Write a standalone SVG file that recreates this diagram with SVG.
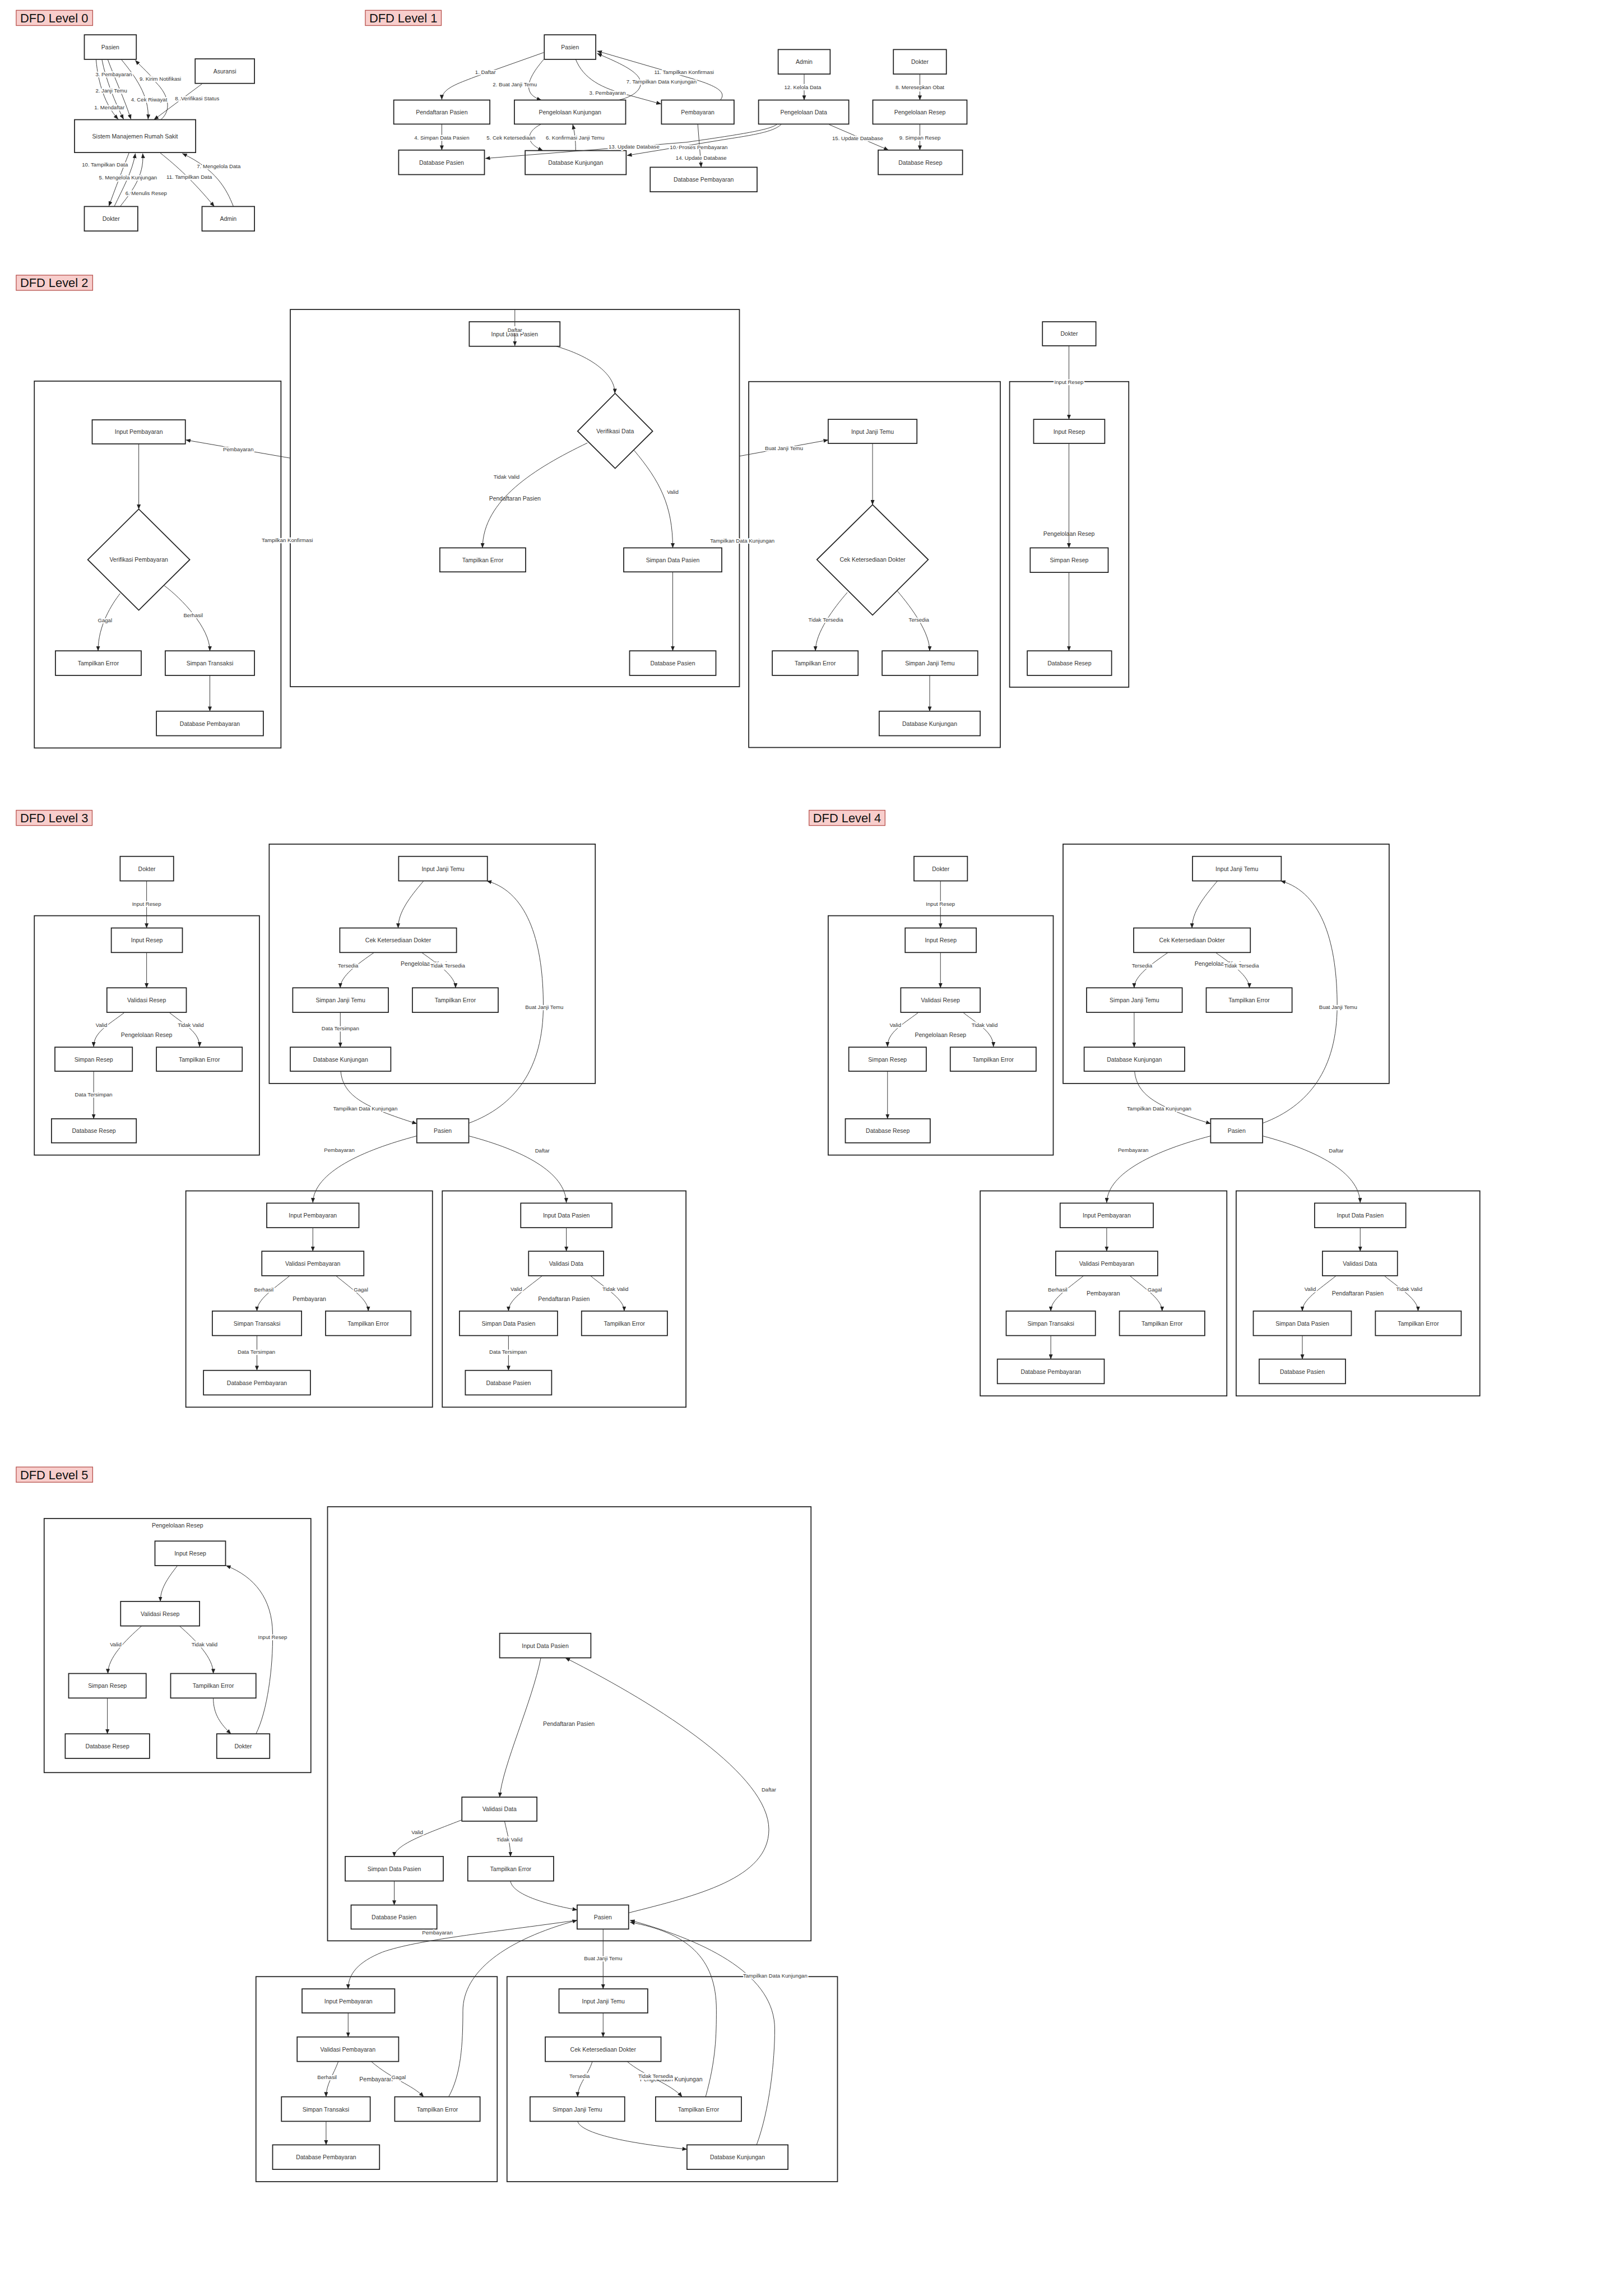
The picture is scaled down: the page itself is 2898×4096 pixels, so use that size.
<svg xmlns="http://www.w3.org/2000/svg" width="2898" height="4096" viewBox="0 0 2898 4096">
<defs>
<marker id="arr" markerUnits="userSpaceOnUse" viewBox="0 0 10 8" markerWidth="10" markerHeight="8" refX="9.5" refY="4" orient="auto">
<path d="M0,0 L10,4 L0,8 z" fill="#222"/>
</marker>
</defs>
<style>
.nd rect,.nd polygon{fill:#fff;stroke:#222;stroke-width:2}
.nd text{font-family:"Liberation Sans",Arial,sans-serif;font-size:12px;fill:#333;text-anchor:middle;dominant-baseline:central}
.box{fill:none;stroke:#222;stroke-width:2}
.edges path{fill:none;stroke:#333;stroke-width:1.1;marker-end:url(#arr)}
.lbl text{font-family:"Liberation Sans",Arial,sans-serif;font-size:11px;fill:#333;text-anchor:middle;dominant-baseline:central;paint-order:stroke;stroke:#fff;stroke-width:5px;stroke-linejoin:round}
.lbl rect{fill:#fff;stroke:none}
.sub{font-family:"Liberation Sans",Arial,sans-serif;font-size:12px;fill:#333;text-anchor:middle;dominant-baseline:central}
.ttl rect{fill:#f8cecc;stroke:#b85450;stroke-width:1.5}
.ttl text{font-family:"Liberation Sans",Arial,sans-serif;font-size:25px;fill:#111;dominant-baseline:central}
</style>
<rect width="2898" height="4096" fill="#fff"/>
<g transform="scale(0.875)">

<!-- ================= LEVEL 0 ================= -->
<g id="level0">
<g class="ttl"><rect x="33" y="21" width="156" height="31"/><text x="41" y="37">DFD Level 0</text></g>
<g id="l0-nodes">
<g id="l0-pasien" class="nd"><rect x="172" y="71" width="106" height="50"/><text x="225" y="96">Pasien</text></g>
<g id="l0-asuransi" class="nd"><rect x="398" y="120" width="121" height="50"/><text x="458.5" y="145">Asuransi</text></g>
<g id="l0-sistem" class="nd"><rect x="152" y="244" width="247" height="67"/><text x="275.5" y="277.5">Sistem Manajemen Rumah Sakit</text></g>
<g id="l0-dokter" class="nd"><rect x="172" y="421" width="109" height="50"/><text x="226.5" y="446">Dokter</text></g>
<g id="l0-admin" class="nd"><rect x="412" y="421" width="107" height="50"/><text x="465.5" y="446">Admin</text></g>
</g>
<g id="l0-edges" class="edges">
<path d="M196,122 C200,170 215,215 241,243"/>
<path d="M208,122 C215,160 235,210 252,243"/>
<path d="M220,122 C232,155 255,205 267,243"/>
<path d="M248,122 C275,155 305,195 302,243"/>
<path d="M328,244 C350,225 345,195 318,168 C305,150 290,138 276,123"/>
<path d="M412,171 L314,244"/>
<path d="M263,312 C250,345 235,385 222,420"/>
<path d="M233,421 C250,385 270,350 276,313"/>
<path d="M245,421 C265,395 295,360 291,313"/>
<path d="M327,312 C360,338 395,370 437,421"/>
<path d="M476,421 C462,385 440,345 372,313"/>
</g>
<g id="l0-labels" class="lbl">
<text x="223" y="219">1. Mendaftar</text>
<text x="227" y="184">2. Janji Temu</text>
<text x="232" y="151">3. Pembayaran</text>
<text x="304" y="203">4. Cek Riwayat</text>
<text x="327" y="161">9. Kirim Notifikasi</text>
<text x="402" y="200">8. Verifikasi Status</text>
<text x="214" y="335">10. Tampilkan Data</text>
<text x="261" y="362">5. Mengelola Kunjungan</text>
<text x="298" y="394">6. Menulis Resep</text>
<text x="386" y="361">11. Tampilkan Data</text>
<text x="446" y="339">7. Mengelola Data</text>
</g>
</g>

<!-- ================= LEVEL 1 ================= -->
<g id="level1">
<g class="ttl"><rect x="745" y="21" width="155" height="31"/><text x="753" y="37">DFD Level 1</text></g>
<g id="l1-nodes">
<g id="l1-pasien" class="nd"><rect x="1110" y="71" width="105" height="50"/><text x="1162.5" y="96">Pasien</text></g>
<g id="l1-admin" class="nd"><rect x="1587" y="101" width="106" height="50"/><text x="1640" y="126">Admin</text></g>
<g id="l1-dokter" class="nd"><rect x="1822" y="101" width="108" height="50"/><text x="1876" y="126">Dokter</text></g>
<g id="l1-pendaftaran" class="nd"><rect x="803" y="204" width="196" height="49"/><text x="901" y="228.5">Pendaftaran Pasien</text></g>
<g id="l1-kunjungan" class="nd"><rect x="1049" y="204" width="227" height="49"/><text x="1162.5" y="228.5">Pengelolaan Kunjungan</text></g>
<g id="l1-pembayaran" class="nd"><rect x="1349" y="204" width="148" height="49"/><text x="1423" y="228.5">Pembayaran</text></g>
<g id="l1-data" class="nd"><rect x="1547" y="204" width="184" height="49"/><text x="1639" y="228.5">Pengelolaan Data</text></g>
<g id="l1-resep" class="nd"><rect x="1780" y="204" width="192" height="49"/><text x="1876" y="228.5">Pengelolaan Resep</text></g>
<g id="l1-dbpasien" class="nd"><rect x="813" y="306" width="175" height="50"/><text x="900.5" y="331">Database Pasien</text></g>
<g id="l1-dbkunjungan" class="nd"><rect x="1071" y="307" width="206" height="49"/><text x="1174" y="331.5">Database Kunjungan</text></g>
<g id="l1-dbpembayaran" class="nd"><rect x="1326" y="341" width="218" height="50"/><text x="1435" y="366">Database Pembayaran</text></g>
<g id="l1-dbresep" class="nd"><rect x="1791" y="306" width="172" height="50"/><text x="1877" y="331">Database Resep</text></g>
</g>
<g id="l1-edges" class="edges">
<path d="M1109,107 L968,157 C935,170 901,180 901,203"/>
<path d="M1109,121 C1080,155 1060,190 1104,204"/>
<path d="M1174,121 C1190,160 1225,180 1286,195 L1348,212"/>
<path d="M1262,204 C1300,195 1315,175 1302,157 C1290,140 1255,125 1218,109"/>
<path d="M1469,204 C1482,188 1465,175 1400,157 L1218,104"/>
<path d="M901,253 L901,306"/>
<path d="M1104,253 C1075,267 1068,290 1107,307"/>
<path d="M1174,307 C1174,285 1172,270 1168,254"/>
<path d="M1584,254 C1570,263 1540,270 1400,290 L990,323"/>
<path d="M1593,254 C1580,265 1560,272 1486,283 L1279,317"/>
<path d="M1423,253 L1430,341"/>
<path d="M1640,151 L1640,204"/>
<path d="M1876,151 L1876,204"/>
<path d="M1876,253 L1876,306"/>
<path d="M1691,254 L1812,306"/>
</g>
<g id="l1-labels" class="lbl">
<text x="990" y="147">1. Daftar</text>
<text x="1050" y="172">2. Buat Janji Temu</text>
<text x="1239" y="189">3. Pembayaran</text>
<text x="1349" y="166">7. Tampilkan Data Kunjungan</text>
<text x="1395" y="147">11. Tampilkan Konfirmasi</text>
<text x="901" y="280">4. Simpan Data Pasien</text>
<text x="1042" y="280">5. Cek Ketersediaan</text>
<text x="1173" y="280">6. Konfirmasi Janji Temu</text>
<text x="1293" y="299">13. Update Database</text>
<text x="1425" y="300">10. Proses Pembayaran</text>
<text x="1430" y="322">14. Update Database</text>
<text x="1637" y="178">12. Kelola Data</text>
<text x="1876" y="178">8. Meresepkan Obat</text>
<text x="1876" y="281">9. Simpan Resep</text>
<text x="1749" y="282">15. Update Database</text>
</g>
</g>

<!-- ================= LEVEL 2 ================= -->
<g id="level2">
<g class="ttl"><rect x="33" y="561" width="156" height="31"/><text x="41" y="577">DFD Level 2</text></g>
<rect class="box" x="70" y="777" width="503" height="748"/>
<rect class="box" x="592" y="631" width="916" height="769"/>
<rect class="box" x="1527" y="778" width="513" height="746"/>
<rect class="box" x="2059" y="778" width="243" height="623"/>
<g id="l2-nodes">
<g id="l2-inputbayar" class="nd"><rect x="188" y="856" width="190" height="49"/><text x="283" y="880.5">Input Pembayaran</text></g>
<g id="l2-verifbayar" class="nd"><polygon points="283,1038 387,1141 283,1244 179,1141"/><text x="283" y="1141">Verifikasi Pembayaran</text></g>
<g id="l2-errbayar" class="nd"><rect x="113" y="1327" width="175" height="50"/><text x="200.5" y="1352">Tampilkan Error</text></g>
<g id="l2-simpantrans" class="nd"><rect x="337" y="1327" width="182" height="50"/><text x="428" y="1352">Simpan Transaksi</text></g>
<g id="l2-dbbayar" class="nd"><rect x="319" y="1450" width="218" height="50"/><text x="428" y="1475">Database Pembayaran</text></g>
<g id="l2-inputpasien" class="nd"><rect x="957" y="656" width="185" height="50"/><text x="1049.5" y="681">Input Data Pasien</text></g>
<g id="l2-verifdata" class="nd"><polygon points="1254.5,802 1331,879 1254.5,955 1178,879"/><text x="1254.5" y="879">Verifikasi Data</text></g>
<g id="l2-errpasien" class="nd"><rect x="897" y="1117" width="175" height="49"/><text x="984.5" y="1141.5">Tampilkan Error</text></g>
<g id="l2-simpanpasien" class="nd"><rect x="1272" y="1117" width="200" height="49"/><text x="1372" y="1141.5">Simpan Data Pasien</text></g>
<g id="l2-dbpasien" class="nd"><rect x="1284" y="1327" width="176" height="50"/><text x="1372" y="1352">Database Pasien</text></g>
<g id="l2-inputjanji" class="nd"><rect x="1689" y="855" width="181" height="49"/><text x="1779.5" y="879.5">Input Janji Temu</text></g>
<g id="l2-cekdokter" class="nd"><polygon points="1779.5,1029 1893,1141 1779.5,1254 1666,1141"/><text x="1779.5" y="1141">Cek Ketersediaan Dokter</text></g>
<g id="l2-errjanji" class="nd"><rect x="1575" y="1327" width="175" height="50"/><text x="1662.5" y="1352">Tampilkan Error</text></g>
<g id="l2-simpanjanji" class="nd"><rect x="1799" y="1327" width="195" height="50"/><text x="1896.5" y="1352">Simpan Janji Temu</text></g>
<g id="l2-dbkunjungan" class="nd"><rect x="1793" y="1450" width="206" height="50"/><text x="1896" y="1475">Database Kunjungan</text></g>
<g id="l2-dokter" class="nd"><rect x="2126" y="656" width="109" height="49"/><text x="2180.5" y="680.5">Dokter</text></g>
<g id="l2-inputresep" class="nd"><rect x="2108" y="855" width="145" height="49"/><text x="2180.5" y="879.5">Input Resep</text></g>
<g id="l2-simpanresep" class="nd"><rect x="2101" y="1117" width="159" height="50"/><text x="2180.5" y="1142">Simpan Resep</text></g>
<g id="l2-dbresep" class="nd"><rect x="2095" y="1327" width="172" height="50"/><text x="2181" y="1352">Database Resep</text></g>
</g>
<g id="l2-edges" class="edges">
<path d="M283,905 L283,1038"/>
<path d="M245,1210 C228,1232 200,1275 200,1327"/>
<path d="M335,1194 C370,1220 428,1280 428,1327"/>
<path d="M428,1377 L428,1450"/>
<path d="M592,934 L379,897"/>
<path d="M1050,631 L1050,705"/>
<path d="M1134,706 C1200,725 1254,760 1254,802"/>
<path d="M1198,903 C1090,955 985,1020 984,1117"/>
<path d="M1293,918 C1345,980 1372,1030 1372,1117"/>
<path d="M1372,1166 L1372,1327"/>
<path d="M1779.5,904 L1779.5,1029"/>
<path d="M1728,1208 C1700,1240 1663,1290 1663,1327"/>
<path d="M1830,1205 C1860,1240 1896,1290 1896,1327"/>
<path d="M1896,1377 L1896,1450"/>
<path d="M1508,930 L1689,897"/>
<path d="M2180,705 L2180,855"/>
<path d="M2180,904 L2180,1117"/>
<path d="M2180,1167 L2180,1327"/>
</g>
<g id="l2-labels" class="lbl">
<text x="214" y="1265">Gagal</text>
<text x="394" y="1254">Berhasil</text>
<text x="486" y="916">Pembayaran</text>
<text x="586" y="1101">Tampilkan Konfirmasi</text>
<rect x="1034" y="665" width="32" height="14"/>
<text x="1050" y="672">Daftar</text>
<text x="1033" y="972">Tidak Valid</text>
<text x="1372" y="1003">Valid</text>
<text x="1514" y="1102">Tampilkan Data Kunjungan</text>
<text x="1684" y="1263">Tidak Tersedia</text>
<text x="1874" y="1263">Tersedia</text>
<text x="1599" y="914">Buat Janji Temu</text>
<text x="2180" y="779">Input Resep</text>
</g>
<text class="sub" x="1050" y="1016">Pendaftaran Pasien</text>
<text class="sub" x="2180" y="1088">Pengelolaan Resep</text>
</g>

<!-- ================= LEVEL 3 ================= -->
<g id="level3">
<g class="ttl"><rect x="33" y="1652" width="155" height="31"/><text x="41" y="1668">DFD Level 3</text></g>
<rect class="box" x="70" y="1867" width="459" height="488"/>
<rect class="box" x="549" y="1721" width="665" height="488"/>
<rect class="box" x="379" y="2428" width="503" height="441"/>
<rect class="box" x="902" y="2428" width="497" height="441"/>
<g id="l3-nodes">
<g id="l3-dokter" class="nd"><rect x="245" y="1746" width="109" height="50"/><text x="299.5" y="1771">Dokter</text></g>
<g id="l3-inputresep" class="nd"><rect x="227" y="1892" width="145" height="50"/><text x="299.5" y="1917">Input Resep</text></g>
<g id="l3-validresep" class="nd"><rect x="218" y="2014" width="162" height="50"/><text x="299" y="2039">Validasi Resep</text></g>
<g id="l3-simpanresep" class="nd"><rect x="112" y="2135" width="158" height="49"/><text x="191" y="2159.5">Simpan Resep</text></g>
<g id="l3-errresep" class="nd"><rect x="319" y="2135" width="175" height="49"/><text x="406.5" y="2159.5">Tampilkan Error</text></g>
<g id="l3-dbresep" class="nd"><rect x="105" y="2281" width="173" height="49"/><text x="191.5" y="2305.5">Database Resep</text></g>
<g id="l3-inputjanji" class="nd"><rect x="813" y="1746" width="181" height="50"/><text x="903.5" y="1771">Input Janji Temu</text></g>
<g id="l3-cekdokter" class="nd"><rect x="693" y="1892" width="238" height="50"/><text x="812" y="1917">Cek Ketersediaan Dokter</text></g>
<g id="l3-simpanjanji" class="nd"><rect x="597" y="2014" width="195" height="50"/><text x="694.5" y="2039">Simpan Janji Temu</text></g>
<g id="l3-errjanji" class="nd"><rect x="841" y="2014" width="175" height="50"/><text x="928.5" y="2039">Tampilkan Error</text></g>
<g id="l3-dbkunjungan" class="nd"><rect x="592" y="2135" width="205" height="49"/><text x="694.5" y="2159.5">Database Kunjungan</text></g>
<g id="l3-pasien" class="nd"><rect x="850" y="2281" width="106" height="49"/><text x="903" y="2305.5">Pasien</text></g>
<g id="l3-inputbayar" class="nd"><rect x="544" y="2453" width="188" height="50"/><text x="638" y="2478">Input Pembayaran</text></g>
<g id="l3-validbayar" class="nd"><rect x="534" y="2551" width="208" height="50"/><text x="638" y="2576">Validasi Pembayaran</text></g>
<g id="l3-simpantrans" class="nd"><rect x="433" y="2673" width="182" height="50"/><text x="524" y="2698">Simpan Transaksi</text></g>
<g id="l3-errbayar" class="nd"><rect x="664" y="2673" width="174" height="50"/><text x="751" y="2698">Tampilkan Error</text></g>
<g id="l3-dbbayar" class="nd"><rect x="415" y="2794" width="218" height="50"/><text x="524" y="2819">Database Pembayaran</text></g>
<g id="l3-inputpasien" class="nd"><rect x="1062" y="2453" width="186" height="50"/><text x="1155" y="2478">Input Data Pasien</text></g>
<g id="l3-validdata" class="nd"><rect x="1078" y="2551" width="153" height="50"/><text x="1154.5" y="2576">Validasi Data</text></g>
<g id="l3-simpanpasien" class="nd"><rect x="937" y="2673" width="200" height="50"/><text x="1037" y="2698">Simpan Data Pasien</text></g>
<g id="l3-errpasien" class="nd"><rect x="1186" y="2673" width="175" height="50"/><text x="1273.5" y="2698">Tampilkan Error</text></g>
<g id="l3-dbpasien" class="nd"><rect x="949" y="2794" width="176" height="50"/><text x="1037" y="2819">Database Pasien</text></g>
</g>
<g id="l3-edges" class="edges">
<path d="M299,1796 L299,1892"/>
<path d="M299,1942 L299,2014"/>
<path d="M253,2065 C220,2090 191,2105 191,2134"/>
<path d="M346,2065 C378,2090 407,2105 407,2134"/>
<path d="M191,2184 L191,2281"/>
<path d="M864,1796 C835,1830 812,1860 812,1892"/>
<path d="M763,1942 C730,1965 694,1990 694,2014"/>
<path d="M860,1942 C892,1965 929,1990 929,2014"/>
<path d="M694,2064 L694,2135"/>
<path d="M695,2185 C700,2235 745,2258 850,2291"/>
<path d="M956,2290 C1050,2255 1108,2180 1108,2050 C1108,1930 1080,1820 993,1796"/>
<path d="M850,2316 C740,2345 640,2390 638,2452"/>
<path d="M956,2316 C1066,2345 1153,2390 1155,2452"/>
<path d="M638,2503 L638,2551"/>
<path d="M591,2601 C555,2630 524,2650 524,2673"/>
<path d="M685,2601 C720,2630 751,2650 751,2673"/>
<path d="M524,2723 L524,2794"/>
<path d="M1155,2503 L1155,2551"/>
<path d="M1106,2601 C1070,2630 1037,2650 1037,2673"/>
<path d="M1204,2601 C1240,2630 1273,2650 1273,2673"/>
<path d="M1037,2723 L1037,2794"/>
</g>
<text class="sub" x="299" y="2110">Pengelolaan Resep</text>
<text class="sub" x="881" y="1965">Pengelolaan Kunjungan</text>
<text class="sub" x="631" y="2648">Pembayaran</text>
<text class="sub" x="1150" y="2648">Pendaftaran Pasien</text>
<g id="l3-labels" class="lbl">
<text x="299" y="1843">Input Resep</text>
<text x="207" y="2090">Valid</text>
<text x="389" y="2090">Tidak Valid</text>
<text x="191" y="2231">Data Tersimpan</text>
<text x="710" y="1969">Tersedia</text>
<rect x="878" y="1962" width="70" height="15"/>
<text x="913" y="1969">Tidak Tersedia</text>
<text x="694" y="2097">Data Tersimpan</text>
<text x="745" y="2260">Tampilkan Data Kunjungan</text>
<text x="1110" y="2053">Buat Janji Temu</text>
<text x="692" y="2345">Pembayaran</text>
<text x="1106" y="2346">Daftar</text>
<text x="538" y="2629">Berhasil</text>
<text x="736" y="2629">Gagal</text>
<text x="523" y="2756">Data Tersimpan</text>
<text x="1053" y="2628">Valid</text>
<text x="1255" y="2628">Tidak Valid</text>
<text x="1036" y="2756">Data Tersimpan</text>
</g>
</g>

<!-- ================= LEVEL 4 ================= -->
<g id="level4" transform="translate(1619,0)">
<g class="ttl"><rect x="31" y="1652" width="155" height="31"/><text x="39" y="1668">DFD Level 4</text></g>
<rect class="box" x="70" y="1867" width="459" height="488"/>
<rect class="box" x="549" y="1721" width="665" height="488"/>
<rect class="box" x="380" y="2428" width="503" height="418"/>
<rect class="box" x="902" y="2428" width="497" height="418"/>
<g id="l4-nodes">
<g id="l4-dokter" class="nd"><rect x="245" y="1746" width="109" height="50"/><text x="299.5" y="1771">Dokter</text></g>
<g id="l4-inputresep" class="nd"><rect x="227" y="1892" width="145" height="50"/><text x="299.5" y="1917">Input Resep</text></g>
<g id="l4-validresep" class="nd"><rect x="218" y="2014" width="162" height="50"/><text x="299" y="2039">Validasi Resep</text></g>
<g id="l4-simpanresep" class="nd"><rect x="112" y="2135" width="158" height="49"/><text x="191" y="2159.5">Simpan Resep</text></g>
<g id="l4-errresep" class="nd"><rect x="319" y="2135" width="175" height="49"/><text x="406.5" y="2159.5">Tampilkan Error</text></g>
<g id="l4-dbresep" class="nd"><rect x="105" y="2281" width="173" height="49"/><text x="191.5" y="2305.5">Database Resep</text></g>
<g id="l4-inputjanji" class="nd"><rect x="813" y="1746" width="181" height="50"/><text x="903.5" y="1771">Input Janji Temu</text></g>
<g id="l4-cekdokter" class="nd"><rect x="693" y="1892" width="238" height="50"/><text x="812" y="1917">Cek Ketersediaan Dokter</text></g>
<g id="l4-simpanjanji" class="nd"><rect x="597" y="2014" width="195" height="50"/><text x="694.5" y="2039">Simpan Janji Temu</text></g>
<g id="l4-errjanji" class="nd"><rect x="841" y="2014" width="175" height="50"/><text x="928.5" y="2039">Tampilkan Error</text></g>
<g id="l4-dbkunjungan" class="nd"><rect x="592" y="2135" width="205" height="49"/><text x="694.5" y="2159.5">Database Kunjungan</text></g>
<g id="l4-pasien" class="nd"><rect x="850" y="2281" width="106" height="49"/><text x="903" y="2305.5">Pasien</text></g>
<g id="l4-inputbayar" class="nd"><rect x="543" y="2453" width="190" height="50"/><text x="638" y="2478">Input Pembayaran</text></g>
<g id="l4-validbayar" class="nd"><rect x="534" y="2551" width="208" height="50"/><text x="638" y="2576">Validasi Pembayaran</text></g>
<g id="l4-simpantrans" class="nd"><rect x="433" y="2673" width="182" height="50"/><text x="524" y="2698">Simpan Transaksi</text></g>
<g id="l4-errbayar" class="nd"><rect x="664" y="2673" width="174" height="50"/><text x="751" y="2698">Tampilkan Error</text></g>
<g id="l4-dbbayar" class="nd"><rect x="415" y="2771" width="218" height="50"/><text x="524" y="2796">Database Pembayaran</text></g>
<g id="l4-inputpasien" class="nd"><rect x="1062" y="2453" width="186" height="50"/><text x="1155" y="2478">Input Data Pasien</text></g>
<g id="l4-validdata" class="nd"><rect x="1078" y="2551" width="153" height="50"/><text x="1154.5" y="2576">Validasi Data</text></g>
<g id="l4-simpanpasien" class="nd"><rect x="937" y="2673" width="200" height="50"/><text x="1037" y="2698">Simpan Data Pasien</text></g>
<g id="l4-errpasien" class="nd"><rect x="1186" y="2673" width="175" height="50"/><text x="1273.5" y="2698">Tampilkan Error</text></g>
<g id="l4-dbpasien" class="nd"><rect x="949" y="2771" width="176" height="50"/><text x="1037" y="2796">Database Pasien</text></g>
</g>
<g id="l4-edges" class="edges">
<path d="M299,1796 L299,1892"/>
<path d="M299,1942 L299,2014"/>
<path d="M253,2065 C220,2090 191,2105 191,2134"/>
<path d="M346,2065 C378,2090 407,2105 407,2134"/>
<path d="M191,2184 L191,2281"/>
<path d="M864,1796 C835,1830 812,1860 812,1892"/>
<path d="M763,1942 C730,1965 694,1990 694,2014"/>
<path d="M860,1942 C892,1965 929,1990 929,2014"/>
<path d="M694,2064 L694,2135"/>
<path d="M695,2185 C700,2235 745,2258 850,2291"/>
<path d="M956,2290 C1050,2255 1108,2180 1108,2050 C1108,1930 1080,1820 993,1796"/>
<path d="M850,2316 C740,2345 640,2390 638,2452"/>
<path d="M956,2316 C1066,2345 1153,2390 1155,2452"/>
<path d="M638,2503 L638,2551"/>
<path d="M591,2601 C555,2630 524,2650 524,2673"/>
<path d="M685,2601 C720,2630 751,2650 751,2673"/>
<path d="M524,2723 L524,2771"/>
<path d="M1155,2503 L1155,2551"/>
<path d="M1106,2601 C1070,2630 1037,2650 1037,2673"/>
<path d="M1204,2601 C1240,2630 1273,2650 1273,2673"/>
<path d="M1037,2723 L1037,2771"/>
</g>
<text class="sub" x="299" y="2110">Pengelolaan Resep</text>
<text class="sub" x="881" y="1965">Pengelolaan Kunjungan</text>
<text class="sub" x="631" y="2637">Pembayaran</text>
<text class="sub" x="1150" y="2637">Pendaftaran Pasien</text>
<g id="l4-labels" class="lbl">
<text x="299" y="1843">Input Resep</text>
<text x="207" y="2090">Valid</text>
<text x="389" y="2090">Tidak Valid</text>
<text x="710" y="1969">Tersedia</text>
<rect x="878" y="1962" width="70" height="15"/>
<text x="913" y="1969">Tidak Tersedia</text>
<text x="745" y="2260">Tampilkan Data Kunjungan</text>
<text x="1110" y="2053">Buat Janji Temu</text>
<text x="692" y="2345">Pembayaran</text>
<text x="1106" y="2346">Daftar</text>
<text x="538" y="2629">Berhasil</text>
<text x="736" y="2629">Gagal</text>
<text x="1053" y="2628">Valid</text>
<text x="1255" y="2628">Tidak Valid</text>
</g>
</g>

<!-- ================= LEVEL 5 ================= -->
<g id="level5">
<g class="ttl"><rect x="33" y="2991" width="156" height="31"/><text x="41" y="3007">DFD Level 5</text></g>
<rect class="box" x="90" y="3096" width="544" height="518"/>
<rect class="box" x="668" y="3072" width="986" height="885"/>
<rect class="box" x="522" y="4030" width="492" height="418"/>
<rect class="box" x="1034" y="4030" width="674" height="418"/>
<text class="sub" x="362" y="3110">Pengelolaan Resep</text>
<g id="l5-nodes">
<g id="l5-inputresep" class="nd"><rect x="316" y="3142" width="144" height="50"/><text x="388" y="3167">Input Resep</text></g>
<g id="l5-validresep" class="nd"><rect x="246" y="3265" width="161" height="50"/><text x="326.5" y="3290">Validasi Resep</text></g>
<g id="l5-simpanresep" class="nd"><rect x="140" y="3412" width="158" height="50"/><text x="219" y="3437">Simpan Resep</text></g>
<g id="l5-errresep" class="nd"><rect x="348" y="3412" width="174" height="50"/><text x="435" y="3437">Tampilkan Error</text></g>
<g id="l5-dbresep" class="nd"><rect x="133" y="3535" width="172" height="50"/><text x="219" y="3560">Database Resep</text></g>
<g id="l5-dokter" class="nd"><rect x="442" y="3535" width="108" height="50"/><text x="496" y="3560">Dokter</text></g>
<g id="l5-inputpasien" class="nd"><rect x="1019" y="3330" width="186" height="50"/><text x="1112" y="3355">Input Data Pasien</text></g>
<g id="l5-validdata" class="nd"><rect x="942" y="3664" width="153" height="49"/><text x="1018.5" y="3688.5">Validasi Data</text></g>
<g id="l5-simpanpasien" class="nd"><rect x="704" y="3785" width="200" height="50"/><text x="804" y="3810">Simpan Data Pasien</text></g>
<g id="l5-errpasien" class="nd"><rect x="954" y="3785" width="175" height="50"/><text x="1041.5" y="3810">Tampilkan Error</text></g>
<g id="l5-dbpasien" class="nd"><rect x="716" y="3884" width="175" height="49"/><text x="803.5" y="3908.5">Database Pasien</text></g>
<g id="l5-pasien" class="nd"><rect x="1177" y="3884" width="105" height="49"/><text x="1229.5" y="3908.5">Pasien</text></g>
<g id="l5-inputbayar" class="nd"><rect x="616" y="4055" width="189" height="49"/><text x="710.5" y="4079.5">Input Pembayaran</text></g>
<g id="l5-validbayar" class="nd"><rect x="606" y="4153" width="207" height="50"/><text x="709.5" y="4178">Validasi Pembayaran</text></g>
<g id="l5-simpantrans" class="nd"><rect x="574" y="4275" width="181" height="50"/><text x="664.5" y="4300">Simpan Transaksi</text></g>
<g id="l5-errbayar" class="nd"><rect x="805" y="4275" width="174" height="50"/><text x="892" y="4300">Tampilkan Error</text></g>
<g id="l5-dbbayar" class="nd"><rect x="556" y="4373" width="218" height="50"/><text x="665" y="4398">Database Pembayaran</text></g>
<g id="l5-inputjanji" class="nd"><rect x="1140" y="4055" width="181" height="49"/><text x="1230.5" y="4079.5">Input Janji Temu</text></g>
<g id="l5-cekdokter" class="nd"><rect x="1112" y="4153" width="236" height="50"/><text x="1230" y="4178">Cek Ketersediaan Dokter</text></g>
<g id="l5-simpanjanji" class="nd"><rect x="1081" y="4275" width="193" height="50"/><text x="1177.5" y="4300">Simpan Janji Temu</text></g>
<g id="l5-errjanji" class="nd"><rect x="1337" y="4275" width="175" height="50"/><text x="1424.5" y="4300">Tampilkan Error</text></g>
<g id="l5-dbkunjungan" class="nd"><rect x="1401" y="4373" width="206" height="50"/><text x="1504" y="4398">Database Kunjungan</text></g>
</g>
<g id="l5-edges" class="edges">
<path d="M362,3192 C340,3220 327,3240 327,3265"/>
<path d="M289,3315 C255,3345 220,3380 220,3412"/>
<path d="M366,3315 C400,3345 435,3380 435,3412"/>
<path d="M219,3462 L219,3535"/>
<path d="M435,3462 C435,3495 450,3515 471,3535"/>
<path d="M522,3535 C545,3490 557,3400 556,3330 C555,3260 520,3215 461,3192"/>
<path d="M1103,3380 C1085,3470 1025,3600 1019,3664"/>
<path d="M943,3710 C880,3735 804,3760 804,3785"/>
<path d="M1029,3713 C1035,3740 1041,3760 1041,3785"/>
<path d="M804,3835 L804,3884"/>
<path d="M1041,3835 C1045,3860 1100,3880 1177,3894"/>
<path d="M1282,3900 C1420,3865 1568,3830 1568,3730 C1568,3620 1350,3480 1153,3380"/>
<path d="M1177,3915 C1000,3940 850,3955 780,3980 C730,4000 710,4025 710,4055"/>
<path d="M915,4275 C940,4230 944,4170 944,4100 C944,4020 1030,3955 1177,3915"/>
<path d="M710,4104 L710,4153"/>
<path d="M690,4203 C680,4230 665,4250 665,4275"/>
<path d="M757,4203 C800,4240 840,4250 864,4275"/>
<path d="M665,4325 L665,4373"/>
<path d="M1230,3933 L1230,4055"/>
<path d="M1230,4104 L1230,4153"/>
<path d="M1208,4203 C1200,4230 1178,4250 1178,4275"/>
<path d="M1279,4203 C1310,4230 1370,4250 1391,4275"/>
<path d="M1178,4325 C1185,4350 1280,4370 1401,4382"/>
<path d="M1439,4275 C1460,4200 1461,4150 1461,4098 C1461,3990 1400,3940 1285,3919"/>
<path d="M1543,4373 C1570,4300 1580,4200 1580,4137 C1580,4030 1450,3960 1285,3915"/>
</g>
<text class="sub" x="1160" y="3514">Pendaftaran Pasien</text>
<text class="sub" x="767" y="4239">Pembayaran</text>
<text class="sub" x="1369" y="4239">Pengelolaan Kunjungan</text>
<g id="l5-labels" class="lbl">
<text x="236" y="3352">Valid</text>
<text x="417" y="3352">Tidak Valid</text>
<text x="556" y="3338">Input Resep</text>
<text x="851" y="3735">Valid</text>
<text x="1039" y="3750">Tidak Valid</text>
<text x="1568" y="3648">Daftar</text>
<text x="892" y="3940">Pembayaran</text>
<text x="667" y="4235">Berhasil</text>
<rect x="800" y="4228" width="27" height="14"/>
<text x="813" y="4235">Gagal</text>
<text x="1230" y="3993">Buat Janji Temu</text>
<text x="1182" y="4233">Tersedia</text>
<rect x="1302" y="4226" width="70" height="14"/>
<text x="1337" y="4233">Tidak Tersedia</text>
<text x="1581" y="4028">Tampilkan Data Kunjungan</text>
</g>
</g>

</g>
</svg>
